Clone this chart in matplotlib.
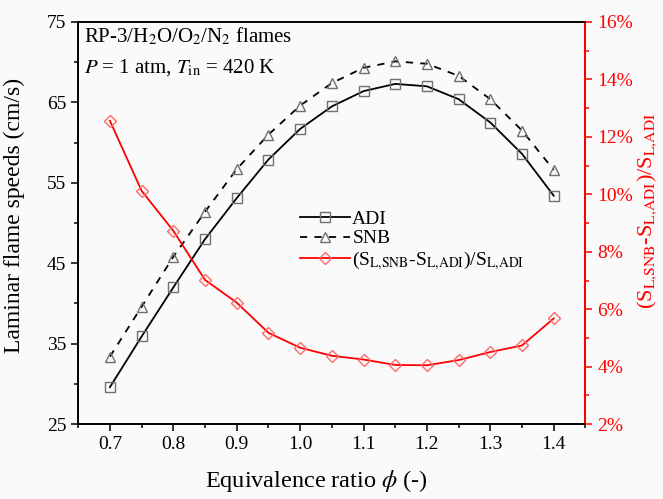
import matplotlib

matplotlib.use("Agg")
import matplotlib.pyplot as plt
from matplotlib.ticker import FixedLocator, FuncFormatter, MultipleLocator


PHI = [0.70, 0.75, 0.80, 0.85, 0.90, 0.95, 1.00, 1.05,
       1.10, 1.15, 1.20, 1.25, 1.30, 1.35, 1.40]
S_ADI = [29.6, 35.9, 42.0, 48.0, 53.1, 57.9, 61.7, 64.5,
         66.4, 67.3, 67.0, 65.4, 62.5, 58.6, 53.4]
S_SNB = [33.4, 39.6, 45.8, 51.4, 56.7, 61.0, 64.6, 67.4,
         69.3, 70.1, 69.8, 68.3, 65.4, 61.5, 56.6]
REL_DIFF = [12.56, 10.12, 8.73, 7.02, 6.23, 5.18, 4.66, 4.38,
            4.25, 4.06, 4.05, 4.23, 4.51, 4.74, 5.68]
LEFT_MAJOR = [25, 35, 45, 55, 65, 75]
LEFT_MINOR = [30, 40, 50, 60, 70]

RED = "#ff0000"
BG = "#fafafa"
REL_LABEL = r"(S$_{\rm L{,}SNB}$-S$_{\rm L{,}ADI}$)/S$_{\rm L{,}ADI}$"


def setup_fonts() -> None:
    plt.rcParams["font.family"] = ["Liberation Serif", "DejaVu Serif"]
    plt.rcParams["mathtext.fontset"] = "stix"
    plt.rcParams["axes.linewidth"] = 1.2


def plot_speeds() -> None:
    fig = plt.figure(figsize=(6.63, 4.99), dpi=100, facecolor=BG)
    ax = fig.add_axes([0.118, 0.150, 0.765, 0.806], facecolor=BG)
    ax2 = ax.twinx()

    marker_style = dict(markersize=6.5, markerfacecolor="none",
                        markeredgecolor="#707070", markeredgewidth=1.0)
    ax.plot(PHI, S_ADI, color="black", linewidth=1.3, marker="s",
            label="ADI", **marker_style)
    ax.plot(PHI, S_SNB, color="black", linewidth=1.3, linestyle=(0, (4, 4)),
            marker="^", label="SNB", **marker_style)
    ax2.plot(PHI, REL_DIFF, color=RED, linewidth=1.3, marker="D",
             markersize=6.5, markerfacecolor="none", markeredgecolor="#ff6a6a",
             markeredgewidth=1.0, label=REL_LABEL)

    ax.set_xlim(0.65, 1.45)
    ax.set_ylim(25, 75)
    ax2.set_ylim(2, 16)

    ax.xaxis.set_major_locator(MultipleLocator(0.1))
    ax.xaxis.set_minor_locator(MultipleLocator(0.05))
    ax.yaxis.set_major_locator(FixedLocator(LEFT_MAJOR))
    ax.yaxis.set_minor_locator(FixedLocator(LEFT_MINOR))
    ax2.yaxis.set_major_locator(MultipleLocator(2))
    ax2.yaxis.set_minor_locator(MultipleLocator(1))
    ax.xaxis.set_major_formatter(FuncFormatter(lambda v, _: f"{v:.1f}"))
    ax2.yaxis.set_major_formatter(FuncFormatter(lambda v, _: f"{v:.0f}%"))

    ax.tick_params(which="both", direction="out", labelsize=14, top=False)
    ax.tick_params(which="major", length=5, width=1.1)
    ax.tick_params(which="minor", length=3, width=1.1)
    ax2.tick_params(which="both", direction="out", labelsize=14,
                    colors=RED, width=1.1)
    ax2.tick_params(which="major", length=5)
    ax2.tick_params(which="minor", length=3)
    ax2.spines["right"].set_color(RED)
    ax2.spines["right"].set_linewidth(1.4)

    ax.set_xlabel(r"Equivalence ratio $\phi$ (-)", fontsize=17.5)
    ax.xaxis.set_label_coords(0.47, -0.11)
    ax.set_ylabel("Laminar flame speeds (cm/s)", fontsize=17)
    ax.yaxis.set_label_coords(-0.105, 0.52)
    ax2.set_ylabel(REL_LABEL, fontsize=16, color=RED)
    ax2.yaxis.set_label_coords(1.098, 0.53)

    ax.text(0.012, 0.992, r"RP-3/H$_2$O/O$_2$/N$_2$ flames",
            transform=ax.transAxes, fontsize=15, va="top")
    ax.text(0.012, 0.912, r"$P$ = 1 atm, $T_{\rm in}$ = 420 K",
            transform=ax.transAxes, fontsize=15, va="top")

    handles = ax.get_legend_handles_labels()[0] + ax2.get_legend_handles_labels()[0]
    labels = [h.get_label() for h in handles]
    ax.legend(handles, labels, loc="center left", bbox_to_anchor=(0.41, 0.455),
              frameon=False, fontsize=14, handlelength=2.6,
              handletextpad=0.1, labelspacing=0.1, borderpad=0.2)

    fig.savefig("out.png", dpi=100, facecolor=BG)


def main() -> None:
    setup_fonts()
    plot_speeds()


if __name__ == "__main__":
    main()
